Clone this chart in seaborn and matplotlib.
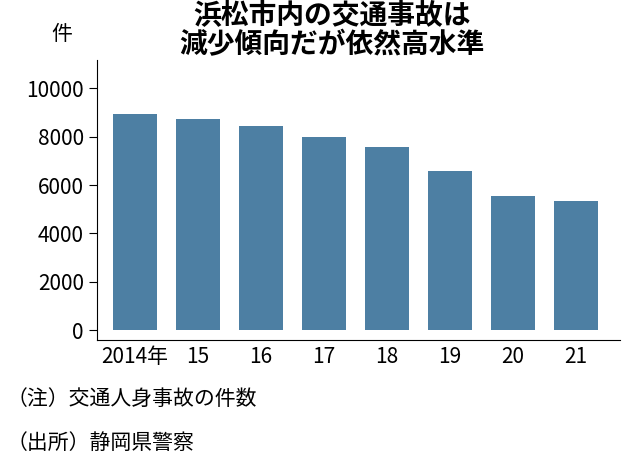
import matplotlib
matplotlib.use("Agg")
import matplotlib.pyplot as plt
import seaborn as sns
import pandas as pd

years = ["2014年", "15", "16", "17", "18", "19", "20", "21"]
accidents = [8950, 8740, 8420, 7970, 7570, 6600, 5560, 5350]
yticks = [0, 2000, 4000, 6000, 8000, 10000]

plt.rcParams["font.family"] = "Noto Sans CJK JP"
df = pd.DataFrame({"year": years, "count": accidents})

fig = plt.figure(figsize=(6.38, 4.68), dpi=100)
ax = fig.add_axes([0.152, 0.273, 0.82, 0.598])
sns.barplot(data=df, x="year", y="count", color="#4d7fa3", width=0.7,
            saturation=1, ax=ax)
ax.set_ylim(-410, 11150)
ax.set_xlim(-0.6, 7.7)
ax.set_yticks(yticks)
ax.set_yticklabels([str(v) for v in yticks], fontsize=15)
ax.tick_params(axis="x", length=0, labelsize=15, pad=4)
ax.tick_params(axis="y", length=6, direction="out")
ax.set_xlabel("")
ax.set_ylabel("")
for s in ["top", "right"]:
    ax.spines[s].set_visible(False)

fig.text(0.52, 0.995, "浜松市内の交通事故は\n減少傾向だが依然高水準", ha="center", va="top",
         fontsize=20, fontweight="bold", linespacing=1.05)
fig.text(0.08, 0.915, "件", fontsize=15)
fig.text(0.01, 0.135, "（注）交通人身事故の件数", fontsize=15)
fig.text(0.01, 0.04, "（出所）静岡県警察", fontsize=15)

fig.savefig("out.png", dpi=100)
